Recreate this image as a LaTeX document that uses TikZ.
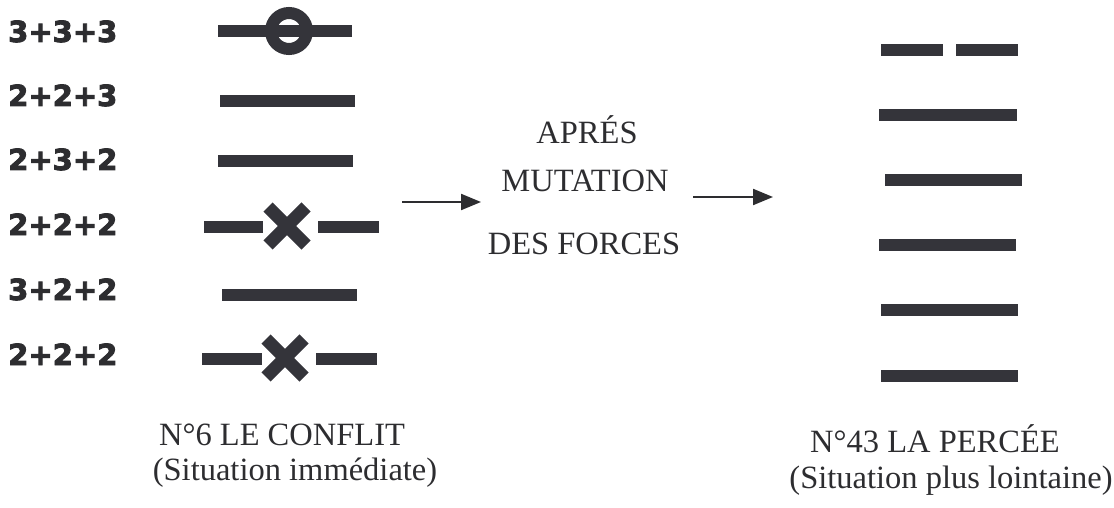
\documentclass[tikz,border=0pt]{standalone}
\usepackage{fontspec}
\setmainfont{Liberation Serif}
\newfontfamily\labfont[UprightFeatures={FakeBold=3}]{DejaVu Sans Bold}
\usetikzlibrary{arrows.meta}
\definecolor{ink}{RGB}{52,52,58}
\definecolor{txt}{RGB}{45,45,48}
\tikzset{
  bar/.style={draw=ink, line width=12pt},
  crossarm/.style={draw=ink, line width=13pt},
  ring/.style={draw=ink, line width=12pt},
  sumlabel/.style={anchor=base west, inner sep=0pt, text=txt, font=\labfont\fontsize{29}{32}\selectfont},
  serif/.style={anchor=base, inner sep=0pt, text=txt, font=\fontsize{32.5}{35}\selectfont},
  flow/.style={draw=txt, line width=2.2pt, -{Triangle[length=20pt,width=16pt]}}
}
\begin{document}
\begin{tikzpicture}[x=1pt,y=-1pt]
\useasboundingbox (0,0) rectangle (1114,508);
% left labels
\node[sumlabel] (l1) at (8,42) {3+3+3};
\node[sumlabel] (l2) at (8,106) {2+2+3};
\node[sumlabel] (l3) at (8,170) {2+3+2};
\node[sumlabel] (l4) at (8,235) {2+2+2};
\node[sumlabel] (l5) at (8,300) {3+2+2};
\node[sumlabel] (l6) at (8,365) {2+2+2};
% left hexagram
\draw[bar] (218,31) -- (352,31);
\draw[ring] (289,31) circle[radius=18];
\draw[bar] (220,101) -- (355,101);
\draw[bar] (218,161) -- (353,161);
\draw[bar] (204,227) -- (263,227);
\draw[bar] (318,227) -- (379,227);
\draw[crossarm] (268,207) -- (306,245);
\draw[crossarm] (268,245) -- (306,207);
\draw[bar] (222,295) -- (357,295);
\draw[bar] (202,359) -- (262,359);
\draw[bar] (316,359) -- (377,359);
\draw[crossarm] (266,339) -- (304,377);
\draw[crossarm] (266,377) -- (304,339);
% middle
\node[serif] (m1) at (587,143) {APRÉS};
\node[serif] (m2) at (585,192) {MUTATION};
\node[serif] (m3) at (584,254) {DES FORCES};
\coordinate (a1s) at (402,202);
\coordinate (a1e) at (481,202);
\coordinate (a2s) at (693,197);
\coordinate (a2e) at (773,197);
\draw[flow] (a1s) -- (a1e);
\draw[flow] (a2s) -- (a2e);
% right hexagram
\draw[bar] (881,50) -- (943,50);
\draw[bar] (956,50) -- (1018,50);
\draw[bar] (879,115) -- (1017,115);
\draw[bar] (885,180) -- (1022,180);
\draw[bar] (879,245) -- (1016,245);
\draw[bar] (881,310) -- (1018,310);
\draw[bar] (881,376) -- (1018,376);
% captions
\node[serif] (c1) at (282,445) {N°6 LE CONFLIT};
\node[serif] (c2) at (295,480) {(Situation immédiate)};
\node[serif] (c3) at (935,452) {N°43 LA PERCÉE};
\node[serif] (c4) at (951,488) {(Situation plus lointaine)};
\end{tikzpicture}
\end{document}
